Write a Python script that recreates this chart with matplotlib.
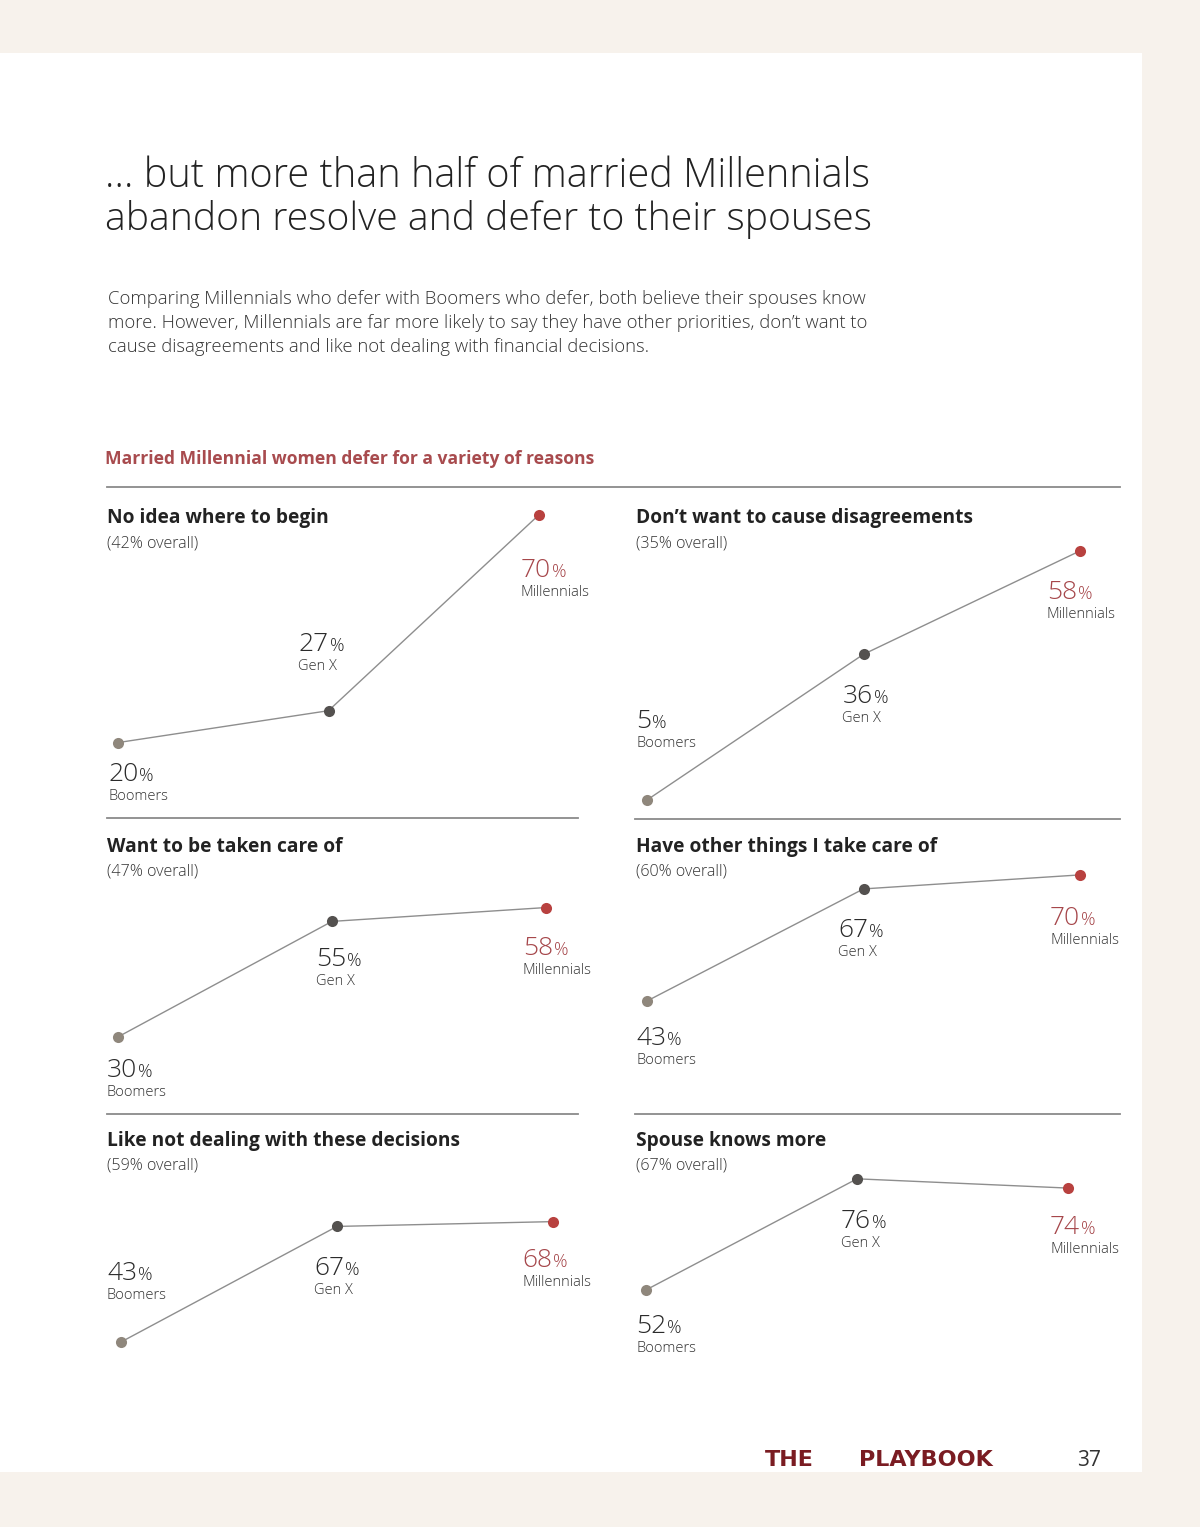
import matplotlib
matplotlib.use('Agg')
import matplotlib.pyplot as plt
from matplotlib.patches import Rectangle
from matplotlib.lines import Line2D
from matplotlib.transforms import IdentityTransform

# ---------------- data ----------------
generations = ['Boomers', 'Gen X', 'Millennials']
titles = ['No idea where to begin',
          'Don\u2019t want to cause disagreements',
          'Want to be taken care of',
          'Have other things I take care of',
          'Like not dealing with these decisions',
          'Spouse knows more']
overall = [42, 35, 47, 60, 59, 67]
boomers = [20, 5, 30, 43, 43, 52]
gen_x = [27, 36, 55, 67, 67, 76]
millennials = [70, 58, 58, 70, 68, 74]

headline = ['\u2026 but more than half of married Millennials',
            'abandon resolve and defer to their spouses']
body = ['Comparing Millennials who defer with Boomers who defer, both believe their spouses know',
        'more. However, Millennials are far more likely to say they have other priorities, don\u2019t want to',
        'cause disagreements and like not dealing with financial decisions.']
subtitle = 'Married Millennial women defer for a variety of reasons'

# ---------------- layout / style ----------------
W, H, DPI = 1200, 1527, 100
FONT = 'Open Sans'
BEIGE = '#f7f2ec'
DARK = '#2b2b2b'
RED_TXT = '#a6474b'
RED_HEAD = '#a84b4e'
RULE = '#8a8a8a'
LINE = '#8e8e8e'
MK_COLORS = ['#8f877c', '#54514f', '#b8413f']
NUM_COLORS = [DARK, DARK, RED_TXT]

# panel layout: x pixel of first/last category, px per %, pixel y of value 0,
# title left x, title baseline, label offsets (dx, dy) in pixels (down positive)
panels = [
    dict(p0=118, p2=539, k=4.556, y0=833.7, tx=107, tb=523,
         offs=[(-10, 38), (-30, -60), (-18, 62)]),
    dict(p0=647, p2=1080, k=4.70, y0=823.5, tx=636, tb=523,
         offs=[(-11, -72), (-21, 49), (-33, 48)]),
    dict(p0=118, p2=546, k=4.62, y0=1175.5, tx=107, tb=852,
         offs=[(-11, 40), (-16, 45), (-23, 47)]),
    dict(p0=647, p2=1080, k=4.67, y0=1201.8, tx=636, tb=852,
         offs=[(-11, 44), (-25, 48), (-30, 50)]),
    dict(p0=121, p2=553, k=4.816, y0=1549.1, tx=107, tb=1146,
         offs=[(-14, -62), (-23, 49), (-31, 45)]),
    dict(p0=646, p2=1068, k=4.63, y0=1530.7, tx=636, tb=1146,
         offs=[(-10, 43), (-16, 49), (-18, 46)]),
]

fig = plt.figure(figsize=(W / DPI, H / DPI), dpi=DPI)
fig.patch.set_facecolor(BEIGE)
R = fig.canvas.get_renderer()


def fx(x):
    return x / W


def fy(y):
    return 1 - y / H


def fit(t, target):
    w = t.get_window_extent(R).width
    t.set_fontsize(t.get_fontsize() * target / w)
    return t.get_fontsize()


# white page
fig.add_artist(Rectangle((0, fy(1472)), fx(1142), fy(53) - fy(1472),
                         transform=fig.transFigure, facecolor='white',
                         edgecolor='none', zorder=0))

# headline
h1 = fig.text(fx(105), fy(187), headline[0], fontsize=27, family=FONT,
              weight='light', color='#222222', va='baseline')
hs = fit(h1, 768)
fig.text(fx(105), fy(230), headline[1], fontsize=hs * 0.985, family=FONT,
         weight='light', color='#222222', va='baseline')

# body
b1 = fig.text(fx(108), fy(304), body[0], fontsize=12, family=FONT,
              weight='light', color='#333333', va='baseline')
bs = fit(b1, 756)
for i, line in enumerate(body[1:], start=1):
    fig.text(fx(108), fy(304 + 24 * i), line, fontsize=bs, family=FONT,
             weight='light', color='#333333', va='baseline')

# subtitle
st = fig.text(fx(105), fy(464), subtitle, fontsize=12, family=FONT,
              weight='bold', color=RED_HEAD, va='baseline')
fit(st, 488)

# rules
rules = [(107, 1120, 487), (107, 578, 818), (635, 1120, 819),
         (107, 578, 1114), (635, 1120, 1114)]
for xa, xb, yy in rules:
    fig.add_artist(Line2D([fx(xa), fx(xb)], [fy(yy), fy(yy)],
                          transform=fig.transFigure, color=RULE, lw=1.3))

# panel title sizes
tt = fig.text(0, 0, titles[0], fontsize=14, family=FONT, weight='bold')
title_size = fit(tt, 223)
tt.remove()
ts = fig.text(0, 0, '(42% overall)', fontsize=10, family=FONT, weight='light')
sub_size = fit(ts, 92)
ts.remove()

NUM_SIZE = 19
PCT_SIZE = 13
NAME_SIZE = 10.5

pct_jobs = []
series = list(zip(boomers, gen_x, millennials))
for idx, (p, vals) in enumerate(zip(panels, series)):
    ax = fig.add_axes([fx(p['p0']), fy(p['y0']),
                       (p['p2'] - p['p0']) / W, 100 * p['k'] / H])
    ax.set_xlim(0, 2)
    ax.set_ylim(0, 100)
    ax.axis('off')
    ax.patch.set_alpha(0)
    xs = list(range(len(generations)))
    ax.plot(xs, vals, color=LINE, lw=1.0, zorder=2, clip_on=False)
    for i, v in enumerate(vals):
        ax.plot([i], [v], 'o', ms=8, color=MK_COLORS[i], mec='none',
                zorder=3, clip_on=False)
        dx, dy = p['offs'][i]
        t = ax.annotate(f'{v}', xy=(i, v), xytext=(dx, -dy),
                        textcoords='offset pixels', ha='left', va='baseline',
                        fontsize=NUM_SIZE, family=FONT, weight='light',
                        color=NUM_COLORS[i], annotation_clip=False)
        ax.annotate(generations[i], xy=(i, v), xytext=(dx, -dy - 19),
                    textcoords='offset pixels', ha='left', va='baseline',
                    fontsize=NAME_SIZE, family=FONT, weight='light',
                    color='#333333', annotation_clip=False)
        pct_jobs.append((ax, t, i, v, dy, NUM_COLORS[i]))
    fig.text(fx(p['tx']), fy(p['tb']), titles[idx], fontsize=title_size,
             family=FONT, weight='bold', color='#222222', va='baseline')
    fig.text(fx(p['tx']), fy(p['tb'] + 24), f'({overall[idx]}% overall)',
             fontsize=sub_size, family=FONT, weight='light', color='#333333',
             va='baseline')

# percent signs right after the numbers, on the same baseline
fig.canvas.draw()
for ax, t, i, v, dy, c in pct_jobs:
    bb = t.get_window_extent(R)
    base_y = ax.transData.transform((i, v))[1] - dy
    fig.text(bb.x1 + 1, base_y, '%', transform=IdentityTransform(),
             fontsize=PCT_SIZE, family=FONT, weight='light', color=c,
             va='baseline', ha='left')

# footer
fig.text(fx(765), fy(1466), 'THE', fontsize=16, family='DejaVu Sans',
         weight='bold', color='#7a1c22', va='baseline')
fig.text(fx(859), fy(1466), 'PLAYBOOK', fontsize=16, family='DejaVu Sans',
         weight='bold', color='#7a1c22', va='baseline')
fig.text(fx(1077), fy(1466), '37', fontsize=15, family=FONT,
         color='#333333', va='baseline')

fig.savefig('out.png', dpi=DPI, facecolor=BEIGE)
